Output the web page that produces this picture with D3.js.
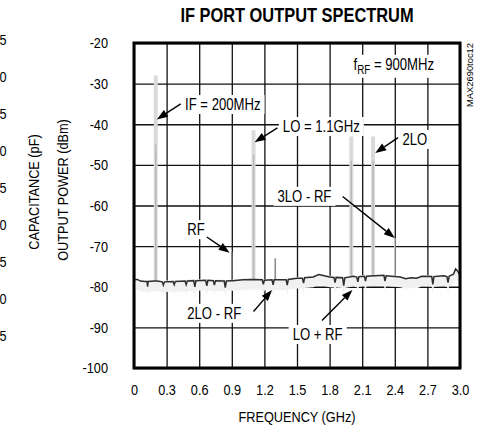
<!DOCTYPE html>
<html><head><meta charset="utf-8">
<script src="https://cdn.jsdelivr.net/npm/d3@7"></script>
<style>
html,body{margin:0;padding:0;background:#fff;}
svg{display:block;}
text{font-family:"Liberation Sans",Arial,sans-serif;fill:#000;}
</style></head>
<body>
<svg id="c" width="481" height="433"></svg>
<script>
// ---------- data ----------
const xTickValues = [0,0.3,0.6,0.9,1.2,1.5,1.8,2.1,2.4,2.7,3.0];
const xTickLabels = ["0","0.3","0.6","0.9","1.2","1.5","1.8","2.1","2.4","2.7","3.0"];
const yTickValues = [-20,-30,-40,-50,-60,-70,-80,-90,-100];
const yTickLabels = ["-20","-30","-40","-50","-60","-70","-80","-90","-100"];
// noise floor trace (GHz, dBm)
const floorFreq = [0.00,0.03,0.06,0.10,0.12,0.125,0.13,0.19,0.21,0.26,0.27,0.28,0.36,0.37,0.38,0.47,0.48,0.49,0.55,0.56,0.57,0.66,0.67,0.68,0.73,0.74,0.75,0.83,0.84,0.85,0.89,0.91,1.00,1.10,1.18,1.19,1.20,1.27,1.28,1.29,1.40,1.41,1.42,1.50,1.55,1.56,1.57,1.65,1.70,1.75,1.80,1.84,1.85,1.86,1.92,1.93,1.94,2.02,2.05,2.06,2.07,2.12,2.13,2.14,2.30,2.31,2.32,2.45,2.50,2.55,2.60,2.65,2.74,2.75,2.76,2.85,2.88,2.89,2.90,2.94,2.96,2.98,3.00];
const floorDb   = [-78.3,-78.2,-78.6,-78.7,-78.7,-80.0,-78.7,-78.6,-78.6,-78.8,-79.6,-78.8,-78.7,-79.5,-78.7,-78.6,-79.5,-78.6,-78.5,-80.0,-78.5,-78.4,-79.8,-78.4,-78.5,-79.6,-78.5,-78.6,-80.2,-78.6,-78.5,-78.5,-78.3,-78.2,-78.3,-79.4,-78.4,-78.3,-79.5,-78.3,-78.3,-79.6,-78.2,-77.9,-77.9,-79.1,-77.8,-77.6,-77.0,-77.3,-77.6,-77.7,-79.0,-77.7,-77.8,-79.7,-77.8,-77.4,-77.6,-78.8,-77.5,-77.4,-78.6,-77.4,-77.2,-78.6,-77.3,-77.6,-78.0,-77.8,-77.9,-77.4,-77.5,-79.4,-77.5,-77.3,-77.5,-79.0,-77.4,-76.9,-75.6,-76.2,-77.2];
// spectral peaks
const peakFreq = [0.2, 0.9, 1.1, 1.3, 2.0, 2.2, 2.4];
const peakDb   = [-28, -71.5, -41.5, -73, -43, -43, -68];

// ---------- layout ----------
const NARROW = 0.82;
const svg = d3.select("#c");
const x = d3.scaleLinear().domain([0,3]).range([134,460]);
const y = d3.scaleLinear().domain([-100,-20]).range([368,43]);
const H = 368-43, W = 460-134;

function narrow(sel){
  sel.each(function(){
    const w = this.getComputedTextLength();
    this.setAttribute("textLength", (w*NARROW).toFixed(2));
    this.setAttribute("lengthAdjust","spacingAndGlyphs");
  });
  return sel;
}

// left-edge fragment of neighbouring chart
const fragDigits = ["5","0","5","0","5","0","5","0","5"];
const fy = d3.scaleLinear().domain([0,8]).range([40,336]);
narrow(svg.append("g").selectAll("text").data(fragDigits).join("text")
  .attr("x",6.5).attr("y",(d,i)=>fy(i)).attr("dy","0.35em")
  .attr("text-anchor","end").attr("font-size",15.5).text(d=>d));
narrow(svg.append("text").attr("transform","translate(39,192) rotate(-90)")
  .attr("text-anchor","middle").attr("font-size",15.5).text("CAPACITANCE (pF)"));

// title
narrow(svg.append("text").attr("x",297).attr("y",22).attr("text-anchor","middle")
  .attr("font-size",20).attr("font-weight","bold").text("IF PORT OUTPUT SPECTRUM"));

// grid via axes
const gx = svg.append("g").attr("transform",`translate(0,368)`)
  .call(d3.axisBottom(x).tickValues(xTickValues).tickSizeInner(-H).tickSizeOuter(0)
        .tickPadding(16).tickFormat((d,i)=>xTickLabels[i]));
const gy = svg.append("g").attr("transform",`translate(134,0)`)
  .call(d3.axisLeft(y).tickValues(yTickValues).tickSizeInner(-W).tickSizeOuter(0)
        .tickPadding(26).tickFormat((d,i)=>yTickLabels[i]));
[gx,gy].forEach(g=>{
  g.select(".domain").remove();
  g.selectAll(".tick line").attr("stroke","#111").attr("stroke-width",1.3);
  g.selectAll(".tick text").attr("font-size",15.5).attr("fill","#000")
    .style("font-family",'"Liberation Sans",Arial,sans-serif');
  narrow(g.selectAll(".tick text"));
});

// axis titles
narrow(svg.append("text").attr("x",297).attr("y",422).attr("text-anchor","middle")
  .attr("font-size",15.5).text("FREQUENCY (GHz)"));
narrow(svg.append("text").attr("transform","translate(68,190) rotate(-90)")
  .attr("text-anchor","middle").attr("font-size",15.5).text("OUTPUT POWER (dBm)"));

// annotations (data coordinates)
const notes = [
  {t:"IF = 200MHz", f:0.47, d:-36.5, a:[0.43,-35.0,0.21,-38.8]},
  {t:"LO = 1.1GHz", f:1.37, d:-41.9, a:[1.32,-40.9,1.11,-44.4]},
  {t:"2LO",         f:2.47, d:-45.1, a:[2.43,-43.3,2.22,-47.1]},
  {t:"3LO - RF",    f:1.32, d:-59.1, a:[1.92,-57.8,2.40,-68.0]},
  {t:"RF",          f:0.49, d:-67.3, a:[0.67,-67.75,0.88,-71.6]},
  {t:"2LO - RF",    f:0.49, d:-87.9, a:[1.10,-86.1,1.27,-80.8]},
  {t:"LO + RF",     f:1.46, d:-93.1, a:[1.73,-88.3,2.01,-80.8]}
];
const boxG = svg.append("g");
const specG = svg.append("g");
const textG = svg.append("g");

function knockout(node){
  const b = node.getBBox();
  boxG.append("rect").attr("x",b.x-4).attr("y",b.y-1).attr("width",b.width+8)
    .attr("height",b.height+2).attr("fill","#fff");
}
notes.forEach(n=>{
  const tx = textG.append("text").attr("x",x(n.f)).attr("y",y(n.d))
    .attr("font-size",16).text(n.t);
  narrow(tx);
  knockout(tx.node());
});
// f_RF label
const fr = textG.append("text").attr("x",x(2.02)).attr("y",y(-26.6)).attr("font-size",16);
fr.append("tspan").text("f");
fr.append("tspan").attr("font-size",12).attr("dy",4).text("RF");
fr.append("tspan").attr("dy",-4).text(" = 900MHz");
narrow(fr);
knockout(fr.node());

// spectrum: haze, floor line, peaks
const floorPts = floorFreq.map((f,i)=>[f,floorDb[i]]);
specG.append("path").datum(floorPts)
  .attr("d",d3.area().x(d=>x(d[0])).y0(d=>y(d[1]-2.5)).y1(d=>y(d[1]+0.3)))
  .attr("fill","#f1f1f1");
const floorAt = d3.scaleLinear().domain(floorFreq).range(floorDb);
peakFreq.forEach((f,i)=>{
  const base = floorAt(f);
  if (peakDb[i] > -60) {
    specG.append("line").attr("x1",x(f)).attr("x2",x(f)).attr("y1",y(base)).attr("y2",y(peakDb[i]))
      .attr("stroke","#dadada").attr("stroke-width",4);
    specG.append("line").attr("x1",x(f)).attr("x2",x(f)).attr("y1",y(base)).attr("y2",y(Math.min(peakDb[i]-6,-45)))
      .attr("stroke","#b8b8b8").attr("stroke-width",1.4);
  } else {
    specG.append("line").attr("x1",x(f)).attr("x2",x(f)).attr("y1",y(base)).attr("y2",y(peakDb[i]))
      .attr("stroke", peakDb[i] > -70 ? "#c4c4c4" : "#8a8a8a").attr("stroke-width",1.6);
  }
});
specG.append("path").datum(floorPts)
  .attr("d",d3.line().x(d=>x(d[0])).y(d=>y(d[1])))
  .attr("fill","none").attr("stroke","#2e2e2e").attr("stroke-width",1.5);

// arrows
notes.forEach(n=>{
  const [f0,d0,f1,d1] = n.a;
  const x0=x(f0), y0=y(d0), x1=x(f1), y1=y(d1);
  const ang = Math.atan2(y1-y0,x1-x0), L=11, hw=4;
  const bx = x1-L*Math.cos(ang), by = y1-L*Math.sin(ang);
  textG.append("line").attr("x1",x0).attr("y1",y0).attr("x2",bx).attr("y2",by)
    .attr("stroke","#000").attr("stroke-width",1.4);
  const p = [[x1,y1],[bx+hw*Math.sin(ang),by-hw*Math.cos(ang)],[bx-hw*Math.sin(ang),by+hw*Math.cos(ang)]];
  textG.append("polygon").attr("points",p.map(q=>q.join(",")).join(" ")).attr("fill","#000");
});

// frame
svg.append("rect").attr("x",134).attr("y",43).attr("width",W).attr("height",H)
  .attr("fill","none").attr("stroke","#000").attr("stroke-width",3);

// side code
svg.append("text").attr("transform","translate(473,43) rotate(-90)")
  .attr("text-anchor","end").attr("font-size",9).attr("textLength",64)
  .attr("lengthAdjust","spacingAndGlyphs").text("MAX2690toc12");
</script>
</body></html>
